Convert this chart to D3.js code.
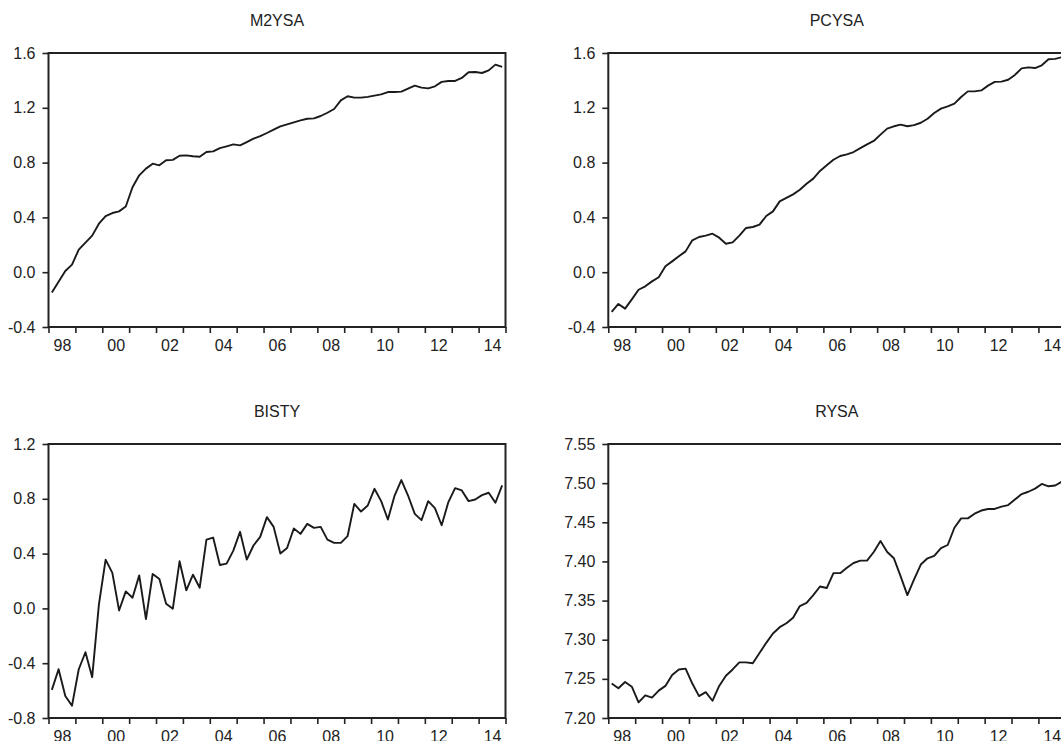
<!DOCTYPE html>
<html>
<head>
<meta charset="utf-8">
<script src="https://cdn.jsdelivr.net/npm/d3@7"></script>
<style>
  body { margin: 0; background: #fff; }
  svg { display: block; }
  .tick text { font-family: "Liberation Sans", Arial, sans-serif; font-size: 16px; fill: #222; }
  .title { font-family: "Liberation Sans", Arial, sans-serif; font-size: 16px; fill: #222; }
</style>
</head>
<body>
<div id="chart"></div>
<script>
// quarterly data, 1998Q1 .. 2014Q4
const startYear = 1998;
const endYear = 2015;
const yearLabels = ["98", "00", "02", "04", "06", "08", "10", "12", "14"];

const m2ysa = [
  -0.149, -0.07, 0.009, 0.055, 0.165, 0.216, 0.267, 0.354,
  0.41, 0.432, 0.444, 0.48, 0.62, 0.707, 0.756, 0.792,
  0.78, 0.817, 0.82, 0.85, 0.853, 0.846, 0.843, 0.877,
  0.882, 0.906, 0.919, 0.933, 0.926, 0.95, 0.975, 0.994,
  1.016, 1.04, 1.065, 1.079, 1.094, 1.108, 1.12, 1.123,
  1.14, 1.164, 1.191, 1.254, 1.284, 1.274, 1.274, 1.28,
  1.289, 1.298, 1.315, 1.315, 1.318, 1.34, 1.362, 1.347,
  1.342, 1.357, 1.389, 1.396, 1.396, 1.418, 1.459, 1.461,
  1.454, 1.473, 1.515, 1.498
];

const pcysa = [
  -0.29, -0.232, -0.266, -0.198, -0.128, -0.103, -0.067, -0.037,
  0.043, 0.079, 0.116, 0.152, 0.233, 0.257, 0.267, 0.281,
  0.252, 0.208, 0.218, 0.267, 0.323, 0.33, 0.347, 0.41,
  0.444, 0.517, 0.542, 0.568, 0.602, 0.646, 0.683, 0.739,
  0.78, 0.821, 0.848, 0.86, 0.877, 0.906, 0.933, 0.958,
  1.004, 1.048, 1.065, 1.077, 1.065, 1.074, 1.091, 1.12,
  1.162, 1.194, 1.211, 1.23, 1.279, 1.32, 1.32, 1.327,
  1.362, 1.389, 1.391, 1.405, 1.44, 1.488, 1.495, 1.49,
  1.51, 1.554, 1.557, 1.57
];

const bisty = [
  -0.595, -0.444, -0.639, -0.71, -0.444, -0.32, -0.502, 0.027,
  0.356, 0.259, -0.015, 0.124, 0.078, 0.241, -0.078, 0.251,
  0.215, 0.034, -0.002, 0.344, 0.132, 0.246, 0.151, 0.502,
  0.517, 0.317, 0.327, 0.422, 0.559, 0.356, 0.459, 0.522,
  0.666, 0.595, 0.4, 0.441, 0.583, 0.544, 0.617, 0.588,
  0.595, 0.502, 0.478, 0.478, 0.527, 0.763, 0.707, 0.751,
  0.873, 0.783, 0.649, 0.824, 0.937, 0.824, 0.69, 0.644,
  0.783, 0.732, 0.607, 0.776, 0.878, 0.861, 0.783, 0.795,
  0.827, 0.844, 0.771, 0.898
];

const rysa = [
  7.244, 7.238, 7.246, 7.240, 7.220, 7.229, 7.226, 7.235,
  7.241, 7.255, 7.262, 7.263, 7.244, 7.228, 7.233, 7.222,
  7.241, 7.254, 7.262, 7.271, 7.271, 7.270, 7.283, 7.296,
  7.308, 7.316, 7.321, 7.328, 7.343, 7.347, 7.357, 7.368,
  7.366, 7.385, 7.385, 7.392, 7.398, 7.401, 7.401, 7.412,
  7.426, 7.412, 7.404, 7.381, 7.357, 7.377, 7.396, 7.404,
  7.407, 7.417, 7.421, 7.443, 7.455, 7.455, 7.461, 7.465,
  7.467, 7.467, 7.470, 7.472, 7.479, 7.486, 7.489, 7.493,
  7.499, 7.496, 7.497, 7.502
];

const m2ysaTicks = [-0.4, 0.0, 0.4, 0.8, 1.2, 1.6];
const pcysaTicks = [-0.4, 0.0, 0.4, 0.8, 1.2, 1.6];
const bistyTicks = [-0.8, -0.4, 0.0, 0.4, 0.8, 1.2];
const rysaTicks = [7.20, 7.25, 7.30, 7.35, 7.40, 7.45, 7.50, 7.55];

const panels = [
  {title: "M2YSA", values: m2ysa, ticks: m2ysaTicks, digits: 1, left: 48.5, top: 53},
  {title: "PCYSA", values: pcysa, ticks: pcysaTicks, digits: 1, left: 608.3, top: 53},
  {title: "BISTY", values: bisty, ticks: bistyTicks, digits: 1, left: 48.5, top: 444},
  {title: "RYSA", values: rysa, ticks: rysaTicks, digits: 2, left: 608.3, top: 444}
];

const width = 1061, height = 741;
const plotW = 457, plotH = 274;

const svg = d3.select("#chart").append("svg")
    .attr("width", width)
    .attr("height", height);

function drawPanel(p) {
    const g = svg.append("g")
        .attr("transform", `translate(${p.left},${p.top})`);

    const x = d3.scaleLinear().domain([startYear, endYear]).range([0, plotW]);
    const y = d3.scaleLinear()
        .domain([p.ticks[0], p.ticks[p.ticks.length - 1]])
        .range([plotH, 0]);

    // quarter midpoints
    const pts = p.values.map((v, i) => ({t: startYear + i / 4 + 0.125, v: v}));

    // year boundary ticks
    const xTickAxis = d3.axisBottom(x)
        .tickValues(d3.range(startYear, endYear + 1))
        .tickSize(6)
        .tickFormat("");
    g.append("g")
        .attr("transform", `translate(0,${plotH})`)
        .call(xTickAxis)
        .call(a => a.select(".domain").remove())
        .call(a => a.selectAll("line").attr("stroke", "#222").attr("stroke-width", 1.6));

    // labels centred inside every second year
    const xLabelAxis = d3.axisBottom(x)
        .tickValues(yearLabels.map((_, i) => startYear + 2 * i + 0.5))
        .tickSize(0)
        .tickPadding(13)
        .tickFormat((_, i) => yearLabels[i]);
    g.append("g")
        .attr("transform", `translate(0,${plotH})`)
        .call(xLabelAxis)
        .call(a => a.select(".domain").remove());

    // plain hyphen for negatives, as in the original
    const yAxis = d3.axisLeft(y)
        .tickValues(p.ticks)
        .tickSize(6)
        .tickPadding(7)
        .tickFormat(d => d.toFixed(p.digits));
    g.append("g")
        .call(yAxis)
        .call(a => a.select(".domain").remove())
        .call(a => a.selectAll("line").attr("stroke", "#222").attr("stroke-width", 1.6));

    // frame
    g.append("rect")
        .attr("width", plotW)
        .attr("height", plotH)
        .attr("fill", "none")
        .attr("stroke", "#222")
        .attr("stroke-width", 2);

    const line = d3.line()
        .x(d => x(d.t))
        .y(d => y(d.v));

    g.append("path")
        .datum(pts)
        .attr("d", line)
        .attr("fill", "none")
        .attr("stroke", "#1a1a1a")
        .attr("stroke-width", 1.9)
        .attr("stroke-linejoin", "round");

    g.append("text")
        .attr("class", "title")
        .attr("x", plotW / 2)
        .attr("y", -27)
        .attr("text-anchor", "middle")
        .text(p.title);
}

panels.forEach(drawPanel);
</script>
</body>
</html>
